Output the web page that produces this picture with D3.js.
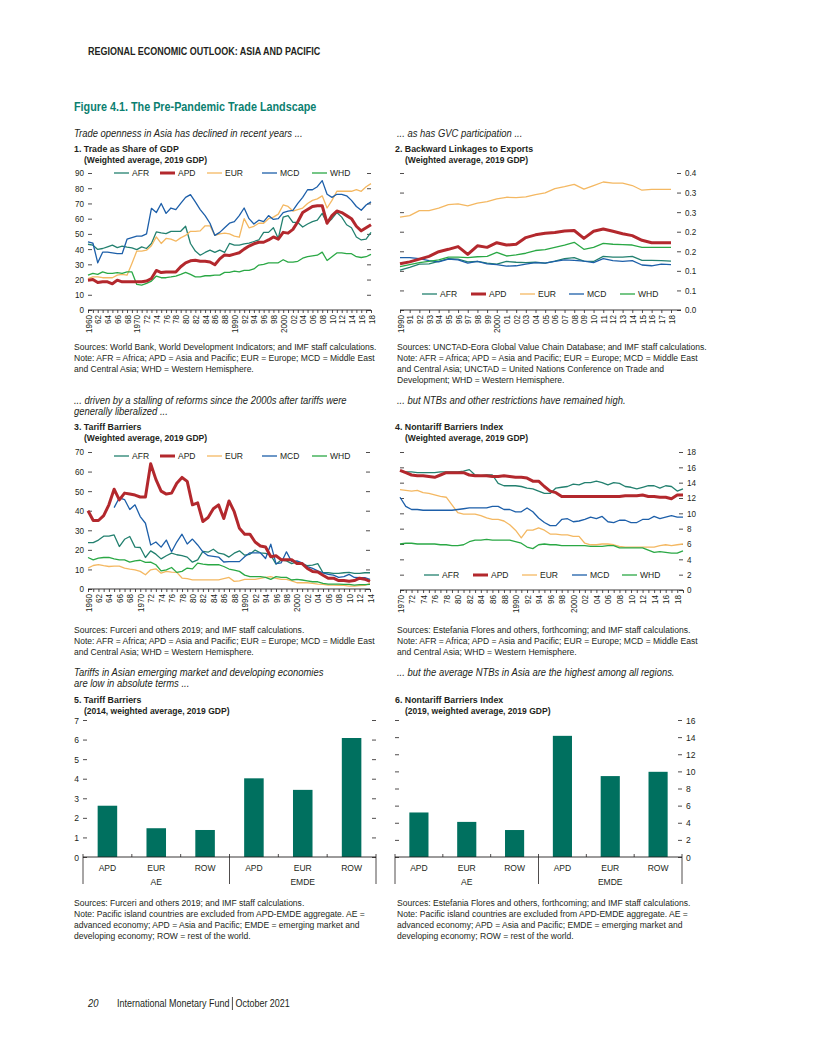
<!DOCTYPE html>
<html>
<head>
<meta charset="utf-8">
<script src="https://cdnjs.cloudflare.com/ajax/libs/d3/7.8.5/d3.min.js"></script>
<style>
body { margin: 0; background: #fff; }
text { font-family: "Liberation Sans", Arial, sans-serif; fill: #231f20; }
.tick line { stroke: #231f20; stroke-width: 0.8; }
</style>
</head>
<body>
<script>

//Categories
var regions = ["AFR", "APD", "EUR", "MCD", "WHD"];
var tradeYears = d3.range(1960, 2019);
var gvcYears = d3.range(1990, 2019);
var tariffYears = d3.range(1960, 2015);
var ntbYears = d3.range(1970, 2020);

//1. Trade as share of GDP
var tradeAFR = [43.2,42.6,39.8,40.4,41.5,42.6,41,41.9,41.3,40.8, 39.7,41.5,40.4,43.7,51.3,50.7,50.2,51.7,51.7,51.7, 55,43.7,38.7,36,37.8,39.3,37.8,39.3,37.8,43.7, 42.6,42.6,43.5,44,45,46,51,51,54,47, 61,62,57.5,57.5,54.5,56.5,58,59,63.5,57, 60,64,61,56,54,48,46,46.5,51];
var tradeAPD = [19.6,20,18,18.5,18.5,17.2,19.6,18.5,18.5,18.5, 18.5,18.5,19,20.7,26,24.6,25,25,25,28.4, 31,32.3,32.7,32,32,31.5,29.7,33.6,36.2,35.8, 36.7,37.6,40,42,43.5,44.5,44.5,46,48,46.5, 51,50.5,53,58,64,66,68,68.5,68.5,57, 62,65,64,62,60,55,52,54,56];
var tradeEUR = [20.7,21.8,21.8,21.2,21.2,21.2,22.9,23.4,22.9,30.6, 38.7,38.7,39.3,42.2,48,43.7,47,46.5,45.2,47.4, 49,51.7,51.7,52,55.3,55.3,49,50,50.5,50, 48.5,47.8,60,54,55,57,57,60,61,63, 69,68,65,66,67,70,72,73,75,67, 72,78,78,78,78,79,78,81,83];
var tradeMCD = [44.8,44,31,38,38,37.5,37,37,46.5,47.5, 48.5,48.5,50,66.8,64,70,63.5,67,66,70, 74,75.8,71,66,62,57,49,51,54,57, 58,62,67,60,56.5,59,58,62,59.5,60, 64,65,65.5,70,74,79,79,81,85,76, 74,76,76,75,72,68,65.5,69,71];
var tradeWHD = [22.9,24,23.4,25,24,24,24.5,24,25,25, 16.8,16.4,17.5,19,22.3,21.2,21.2,21.7,22.3,23.4, 24.7,23.4,21.8,21.8,22.5,22.5,22.9,22.9,24.7,24.7, 25.6,25,26,26,27,29.5,30,31,31,31, 33,31.5,31.5,32,34,35,35.5,36,38,32.5, 35,37.5,37.5,37,37,35,34.5,35,36.5];
var tradeTicks = [0, 10, 20, 30, 40, 50, 60, 70, 80, 90];

//2. Backward linkages to exports
var gvcAFR = [0.102,0.109,0.117,0.118,0.124,0.131,0.130,0.123,0.124,0.120, 0.117,0.124,0.122,0.121,0.122,0.120,0.125,0.131,0.134,0.125, 0.124,0.137,0.135,0.135,0.137,0.127,0.127,0.126,0.125];
var gvcAPD = [0.118,0.123,0.130,0.137,0.149,0.155,0.162,0.142,0.164,0.160, 0.172,0.166,0.168,0.185,0.192,0.196,0.198,0.202,0.203,0.183, 0.201,0.207,0.201,0.195,0.190,0.178,0.172,0.172,0.172];
var gvcEUR = [0.237,0.241,0.254,0.254,0.260,0.269,0.271,0.266,0.273,0.277, 0.284,0.288,0.287,0.289,0.295,0.299,0.310,0.315,0.321,0.309, 0.318,0.327,0.324,0.324,0.318,0.306,0.308,0.308,0.308];
var gvcMCD = [0.134,0.134,0.131,0.126,0.123,0.130,0.128,0.120,0.124,0.118, 0.116,0.112,0.113,0.117,0.121,0.120,0.124,0.128,0.127,0.125, 0.121,0.131,0.126,0.124,0.126,0.115,0.113,0.117,0.116];
var gvcWHD = [0.111,0.116,0.121,0.124,0.128,0.135,0.135,0.134,0.136,0.137, 0.147,0.138,0.141,0.145,0.152,0.154,0.160,0.166,0.173,0.155, 0.160,0.170,0.168,0.167,0.166,0.160,0.160,0.160,0.160];
var gvcTicks = [0, 0.05, 0.10, 0.15, 0.20, 0.25, 0.30, 0.35];
var gvcTickLabels = ["0.0", "0.1", "0.1", "0.2", "0.2", "0.3", "0.3", "0.4"];

//3. Tariff barriers
var tariffAFR = [23.7,23.7,25,27,27,27.6,21.7,25.4,26.8,21.4, 21.2,16.1,19.5,17.8,15.4,17,18.3,17.5,17,16.3, 13.7,14.9,19.2,18.8,20.3,18.3,17.8,16.3,18.3,19.5, 17.3,17.7,19.9,18.5,18.2,17.3,12.7,14.8,14.4,13, 13.9,12.7,11.9,12.2,13,8.3,8.3,8,8,8.3, 8.5,8,8,8.3,8.3];
var tariffAPD = [40,35,35,37.5,43,51,45.5,49,48.5,48, 47,47,64,56,50,48.5,49,54,57,55, 43,44,34.5,36.5,41,43,36,45,39.5,31, 28,28,24,22,21.5,16.5,17,15,15,15, 13,13,10.5,9,8.7,7,5.5,5.5,4.3,4.3, 4,4.3,5.5,5,3.9];
var tariffEUR = [10.7,12,12.4,11.9,11.5,11.7,11.7,10.7,10.2,9.8, 9,7.3,9.8,10.3,8.1,9,8.6,8.5,5.6,5.3, 4.7,4.7,4.7,4.7,4.7,4.7,5.3,5.9,3.9,4.2, 4.9,4.9,4.9,5.4,5.9,6.3,5.4,4.9,4.9,4.2, 3.2,3.2,3.2,2.9,2.5,2.4,2,2,1.9,1.9, 1.5,1.5,1.7,1.9,2.9];
var tariffMCD = [null,null,null,null,null,41.6,46.6,45.7,40.6,43, 37,33.6,22.5,24,21.4,25,19,24,28,23, 25.5,22.5,19,17,16.7,16.3,13.8,14,14,14, 16.5,18.5,18.5,18.5,15.6,22.9,13,13.4,19,14, 14.4,13.4,11.4,10.5,9.3,8.3,7.5,7.1,5.9,6.3, 7.5,5.9,5.8,5.8,4.9];
var tariffWHD = [16.1,14.9,15.8,16.1,16.1,15.4,14.9,14.9,13.7,14.4, 14.7,13.6,13.7,12.4,9.3,9.8,11,8.5,9,10.7, 10.3,13.2,12.7,12.4,12.4,12.4,11.5,10.2,9.7,9, 7.1,6.3,6.3,6.3,5.9,4.9,6.3,5.9,5.9,4.6, 4.9,4.6,4.2,3.7,3.7,2.9,2.5,2.5,2.5,2.4, 2.4,2,2.2,2.2,2.4];
var tariffTicks = [0, 10, 20, 30, 40, 50, 60, 70];

//4. Nontariff barriers index
var ntbAFR = [15.5,15.4,15.4,15.3,15.3,15.3,15.3,15.4,15.4,15.4, 15.4,15.5,15.7,15,14.9,15,15,13.9,13.6,13.6, 13.6,13.5,13.3,13.2,12.9,12.6,12.6,13.3,13.4,13.5, 13.8,13.7,14,14,14.2,14,13.7,14,13.9,13.5, 13.4,13.2,13.4,13.6,13.6,13.3,13.6,13.5,12.9,13.2];
var ntbAPD = [15.6,15.3,15,14.9,14.9,14.8,14.7,15,15.3,15.3, 15.3,15.3,15,14.9,14.9,14.9,14.8,14.8,14.9,14.8, 14.7,14.7,14.6,14.2,14.2,13.5,12.9,12.7,12.2,12.2, 12.2,12.2,12.2,12.2,12.2,12.2,12.2,12.2,12.2,12.3, 12.3,12.3,12.4,12.2,12.2,12.1,12.1,11.9,12.4,12.4];
var ntbEUR = [13.1,13,12.9,13,12.7,12.6,12.4,12.2,12.1,11.1, 10.1,9.9,9.9,9.9,9.7,9.4,9.2,9.2,9,8.5, 7.8,6.8,7.8,7.8,8.1,7.8,7.3,7.3,7.2,7.2, 7,7,6.1,5.9,5.9,6,6,5.9,5.7,5.6, 5.6,5.6,5.6,5.6,5.6,5.8,5.9,5.8,5.9,6];
var ntbMCD = [12.1,10.9,10.5,10.5,10.4,10.4,10.4,10.4,10.4,10.4, 10.5,10.6,10.7,10.7,10.7,10.7,10.9,10.9,10.5,10.5, 10.2,10.2,10.7,10.2,9.4,8.8,8.4,8.4,9.2,9.3, 8.9,9,9.2,9.5,9.3,9.6,8.9,8.8,9.1,9.1, 8.8,8.8,9.2,9.2,9.6,9.3,9.5,9.7,9.5,9.5];
var ntbWHD = [6,6.1,6.1,6,6,6,6,5.9,5.9,5.8, 5.8,5.9,6.3,6.5,6.5,6.6,6.5,6.5,6.5,6.5, 6.3,6.1,5.6,5.4,5.9,6,5.9,5.9,5.8,5.8, 5.8,5.8,5.8,5.7,5.7,5.7,5.8,5.8,5.5,5.5, 5.5,5.5,5.5,5.2,4.9,5,4.9,4.8,4.8,5.1];
var ntbTicks = [0, 2, 4, 6, 8, 10, 12, 14, 16, 18];

//5. and 6. bar charts
var barCats = ["APD", "EUR", "ROW", "APD", "EUR", "ROW"];
var barGroups = ["AE", "EMDE"];
var tariffBars = [2.62, 1.47, 1.38, 4.02, 3.43, 6.08];
var ntbBars = [5.2, 4.1, 3.15, 14.15, 9.45, 9.95];
var tariffBarTicks = [0, 1, 2, 3, 4, 5, 6, 7];
var ntbBarTicks = [0, 2, 4, 6, 8, 10, 12, 14, 16];


//Line styles
var style = {
    AFR: { color: "#23806f", width: 1.3 },
    APD: { color: "#b3282d", width: 3 },
    EUR: { color: "#f4b862", width: 1.3 },
    MCD: { color: "#1d5fa9", width: 1.3 },
    WHD: { color: "#2aa845", width: 1.3 }
};
var teal = "#00705f";
var ink = "#231f20";
var K = 0.9;   //horizontal squeeze, there is no condensed font installed
var tickSize = 9;
var noteSize = 9.5;


//Append the svg to the DOM
var svg = d3.select("body").append("svg")
    .attr("width", 816)
    .attr("height", 1056);


//squeeze texts so Liberation Sans looks like the condensed face
var squeeze = function(sel, pre) {
    sel.each(function() {
        var t = d3.select(this);
        var x = +t.attr("x") || 0;
        t.attr("x", x / K).attr("transform", (pre || "") + " scale(" + K + ",1)");
    });
};

//Text helper
var addText = function(x, y, str, size, weight, italic, fill) {
    var t = svg.append("text")
        .attr("x", x)
        .attr("y", y)
        .style("font-size", size + "px")
        .style("font-weight", weight || "normal")
        .style("font-style", italic ? "italic" : "normal")
        .style("fill", fill || ink)
        .text(str);
    squeeze(t);
    return t;
};

var addBlock = function(x, y, lines, size, weight, italic) {
    for (var i = 0; i < lines.length; i++) {
        addText(x, y + i * 11, lines[i], size, weight, italic);
    }
};

var yearLabel = function(d) {
    if (d == 1960 || d == 1970 || d == 1990 || d == 2000) return String(d);
    return String(d).slice(2);
};


//Line chart
var lineChart = function(c) {

    var x = d3.scaleLinear().domain([c.years[0], c.years[c.years.length - 1]]).range([c.left, c.right]);
    var y = d3.scaleLinear().domain([0, c.yTicks[c.yTicks.length - 1]]).range([c.bottom, c.top]);

    var chart = svg.append("g");

    //Set up the y axes
    var labelled = (c.side == "left" ? d3.axisLeft(y) : d3.axisRight(y))
        .tickValues(c.yTicks).tickSize(-4).tickPadding(4)
        .tickFormat(function(d, i) { return c.yLabels ? c.yLabels[i] : d; });
    var blank = (c.side == "left" ? d3.axisRight(y) : d3.axisLeft(y))
        .tickValues(c.yTicks).tickSize(-4).tickFormat("");

    var yg = chart.append("g")
        .attr("transform", "translate(" + (c.side == "left" ? c.left : c.end) + ",0)")
        .call(labelled);
    chart.append("g")
        .attr("transform", "translate(" + (c.side == "left" ? c.end : c.left) + ",0)")
        .call(blank);

    //x axis with year ticks
    var xAxis = d3.axisBottom(x)
        .tickValues(c.years)
        .tickSize(3)
        .tickFormat(function(d) { return (d - c.years[0]) % c.every == 0 ? yearLabel(d) : ""; });
    var xg = chart.append("g")
        .attr("transform", "translate(0," + c.bottom + ")")
        .call(xAxis);
    xg.selectAll("text")
        .attr("text-anchor", "end")
        .attr("x", -5)
        .attr("y", 0)
        .attr("dy", "0.34em");
    squeeze(xg.selectAll("text"), "rotate(-90)");
    squeeze(yg.selectAll("text"));

    chart.selectAll(".domain").remove();
    chart.selectAll("text").attr("font-family", null).attr("font-size", null)
        .style("fill", ink).style("font-size", tickSize + "px");

    chart.append("line")
        .attr("x1", c.left).attr("x2", c.end)
        .attr("y1", c.bottom).attr("y2", c.bottom)
        .style("stroke", ink).style("stroke-width", 0.9);

    //Lines, APD drawn last
    var line = d3.line()
        .defined(function(d) { return d != null; })
        .x(function(d, i) { return x(c.years[i]); })
        .y(function(d) { return y(d); });

    var order = ["AFR", "EUR", "MCD", "WHD", "APD"];
    order.forEach(function(name) {
        chart.append("path")
            .datum(c.series[name])
            .attr("d", line)
            .style("fill", "none")
            .style("stroke", style[name].color)
            .style("stroke-width", style[name].width)
            .style("stroke-linejoin", "round");
    });

    //Legend
    regions.forEach(function(name, i) {
        var lx = c.legendX[i];
        chart.append("line")
            .attr("x1", lx).attr("x2", lx + 15)
            .attr("y1", c.legendY).attr("y2", c.legendY)
            .style("stroke", style[name].color)
            .style("stroke-width", style[name].width);
        var t = chart.append("text")
            .attr("x", lx + 18)
            .attr("y", c.legendY + 3.5)
            .style("font-size", "9.5px")
            .text(name);
        squeeze(t);
    });
};


//Bar chart
var barChart = function(c) {

    var x = d3.scaleBand().domain(d3.range(barCats.length)).range([c.left, c.right]);
    var y = d3.scaleLinear().domain([0, c.yTicks[c.yTicks.length - 1]]).range([c.bottom, c.top]);

    var chart = svg.append("g");

    var labelled = (c.side == "left" ? d3.axisLeft(y) : d3.axisRight(y))
        .tickValues(c.yTicks).tickSize(-4).tickPadding(4).tickFormat(d3.format("d"));
    var blank = (c.side == "left" ? d3.axisRight(y) : d3.axisLeft(y))
        .tickValues(c.yTicks).tickSize(-4).tickFormat("");

    var yg = chart.append("g")
        .attr("transform", "translate(" + (c.side == "left" ? c.left : c.right) + ",0)")
        .call(labelled);
    chart.append("g")
        .attr("transform", "translate(" + (c.side == "left" ? c.right : c.left) + ",0)")
        .call(blank);
    chart.selectAll(".domain").remove();
    squeeze(yg.selectAll("text"));
    chart.selectAll("text").attr("font-family", null).attr("font-size", null)
        .style("fill", ink).style("font-size", "9.5px");

    //bars
    chart.selectAll(".bar")
        .data(c.values)
        .enter()
            .append("rect")
            .classed("bar", true)
            .attr("x", function(d, i) { return x(i) + x.bandwidth() * 0.3; })
            .attr("y", function(d) { return y(d); })
            .attr("width", x.bandwidth() * 0.4)
            .attr("height", function(d) { return c.bottom - y(d); })
            .style("fill", teal);

    //category axis
    chart.append("line")
        .attr("x1", c.left).attr("x2", c.right)
        .attr("y1", c.bottom).attr("y2", c.bottom)
        .style("stroke", ink).style("stroke-width", 0.9);

    for (var i = 0; i <= barCats.length; i++) {
        var bx = (i == barCats.length) ? c.right : x(i);
        var major = (i % 3 == 0);
        chart.append("line")
            .attr("x1", bx).attr("x2", bx)
            .attr("y1", c.bottom - 3)
            .attr("y2", major ? c.bottom + 27 : c.bottom)
            .style("stroke", ink).style("stroke-width", 0.8);
    }

    var cats = chart.selectAll(".cat")
        .data(barCats)
        .enter()
            .append("text")
            .attr("x", function(d, i) { return x(i) + x.bandwidth() / 2; })
            .attr("y", c.bottom + 14)
            .attr("text-anchor", "middle")
            .style("font-size", "9.5px")
            .text(function(d) { return d; });
    squeeze(cats);

    var grps = chart.selectAll(".grp")
        .data(barGroups)
        .enter()
            .append("text")
            .attr("x", function(d, i) { return x(i * 3) + x.bandwidth() * 1.5; })
            .attr("y", c.bottom + 28)
            .attr("text-anchor", "middle")
            .style("font-size", "9.5px")
            .text(function(d) { return d; });
    squeeze(grps);
};


//Page texts
addText(88, 55, "REGIONAL ECONOMIC OUTLOOK: ASIA AND PACIFIC", 10, "bold");
addText(74, 111, "Figure 4.1. The Pre-Pandemic Trade Landscape", 12, "bold", false, "#0b8070");

addText(74, 137, "Trade openness in Asia has declined in recent years ...", 10.5, "normal", true);
addText(397, 137, "... as has GVC participation ...", 10.5, "normal", true);

addText(74, 152, "1. Trade as Share of GDP", 9.8, "bold");
addText(84, 163, "(Weighted average, 2019 GDP)", 9.5, "bold");
addText(395, 152, "2. Backward Linkages to Exports", 9.8, "bold");
addText(405, 163, "(Weighted average, 2019 GDP)", 9.5, "bold");

addBlock(74, 350, [
    "Sources: World Bank, World Development Indicators; and IMF staff calculations.",
    "Note: AFR = Africa; APD = Asia and Pacific; EUR = Europe; MCD = Middle East",
    "and Central Asia; WHD = Western Hemisphere."
], noteSize);
addBlock(397, 350, [
    "Sources: UNCTAD-Eora Global Value Chain Database; and IMF staff calculations.",
    "Note: AFR = Africa; APD = Asia and Pacific; EUR = Europe; MCD = Middle East",
    "and Central Asia; UNCTAD = United Nations Conference on Trade and",
    "Development; WHD = Western Hemisphere."
], noteSize);

addBlock(74, 404, [
    "... driven by a stalling of reforms since the 2000s after tariffs were",
    "generally liberalized ..."
], 10.5, "normal", true);
addText(397, 404, "... but NTBs and other restrictions have remained high.", 10.5, "normal", true);

addText(74, 430, "3. Tariff Barriers", 9.8, "bold");
addText(84, 441, "(Weighted average, 2019 GDP)", 9.5, "bold");
addText(395, 430, "4. Nontariff Barriers Index", 9.8, "bold");
addText(405, 441, "(Weighted average, 2019 GDP)", 9.5, "bold");

addBlock(74, 633, [
    "Sources: Furceri and others 2019; and IMF staff calculations.",
    "Note: AFR = Africa; APD = Asia and Pacific; EUR = Europe; MCD = Middle East",
    "and Central Asia; WHD = Western Hemisphere."
], noteSize);
addBlock(397, 633, [
    "Sources: Estefania Flores and others, forthcoming; and IMF staff calculations.",
    "Note: AFR = Africa; APD = Asia and Pacific; EUR = Europe; MCD = Middle East",
    "and Central Asia; WHD = Western Hemisphere."
], noteSize);

addBlock(74, 676, [
    "Tariffs in Asian emerging market and developing economies",
    "are low in absolute terms ..."
], 10.5, "normal", true);
addText(397, 676, "... but the average NTBs in Asia are the highest among all regions.", 10.5, "normal", true);

addText(74, 703, "5. Tariff Barriers", 9.8, "bold");
addText(84, 714, "(2014, weighted average, 2019 GDP)", 9.5, "bold");
addText(395, 703, "6. Nontariff Barriers Index", 9.8, "bold");
addText(405, 714, "(2019, weighted average, 2019 GDP)", 9.5, "bold");

addBlock(74, 906, [
    "Sources: Furceri and others 2019; and IMF staff calculations.",
    "Note: Pacific island countries are excluded from APD-EMDE aggregate. AE =",
    "advanced economy; APD = Asia and Pacific; EMDE = emerging market and",
    "developing economy; ROW = rest of the world."
], noteSize);
addBlock(397, 906, [
    "Sources: Estefania Flores and others, forthcoming; and IMF staff calculations.",
    "Note: Pacific island countries are excluded from APD-EMDE aggregate. AE =",
    "advanced economy; APD = Asia and Pacific; EMDE = emerging market and",
    "developing economy; ROW = rest of the world."
], noteSize);

//Footer
addText(88, 1007, "20", 10.5, "normal", true);
var imf = addText(117, 1007, "International Monetary Fund", 10);
var imfEnd = 117 + imf.node().getComputedTextLength() * K + 3;
svg.append("line")
    .attr("x1", imfEnd).attr("x2", imfEnd).attr("y1", 997).attr("y2", 1010)
    .style("stroke", ink).style("stroke-width", 0.8);
addText(imfEnd + 3, 1007, "October 2021", 10);


//Draw the charts
lineChart({
    years: tradeYears,
    series: { AFR: tradeAFR, APD: tradeAPD, EUR: tradeEUR, MCD: tradeMCD, WHD: tradeWHD },
    left: 88, right: 371, end: 371, top: 173, bottom: 310,
    yTicks: tradeTicks, side: "left", every: 2,
    legendX: [114, 160, 207, 262, 312], legendY: 173
});

lineChart({
    years: gvcYears,
    series: { AFR: gvcAFR, APD: gvcAPD, EUR: gvcEUR, MCD: gvcMCD, WHD: gvcWHD },
    left: 400, right: 671, end: 681, top: 173, bottom: 310,
    yTicks: gvcTicks, yLabels: gvcTickLabels, side: "right", every: 1,
    legendX: [422, 471, 520, 569, 620], legendY: 294
});

lineChart({
    years: tariffYears,
    series: { AFR: tariffAFR, APD: tariffAPD, EUR: tariffEUR, MCD: tariffMCD, WHD: tariffWHD },
    left: 88, right: 370, end: 370, top: 452, bottom: 589,
    yTicks: tariffTicks, side: "left", every: 2,
    legendX: [114, 160, 207, 262, 312], legendY: 456
});

lineChart({
    years: ntbYears,
    series: { AFR: ntbAFR, APD: ntbAPD, EUR: ntbEUR, MCD: ntbMCD, WHD: ntbWHD },
    left: 400, right: 683, end: 683, top: 452, bottom: 590,
    yTicks: ntbTicks, side: "right", every: 2,
    legendX: [424, 473, 522, 572, 622], legendY: 575
});

barChart({
    values: tariffBars, yTicks: tariffBarTicks, side: "left",
    left: 83, right: 376, top: 720, bottom: 857
});

barChart({
    values: ntbBars, yTicks: ntbBarTicks, side: "right",
    left: 395, right: 682, top: 720, bottom: 857
});

</script>
</body>
</html>
